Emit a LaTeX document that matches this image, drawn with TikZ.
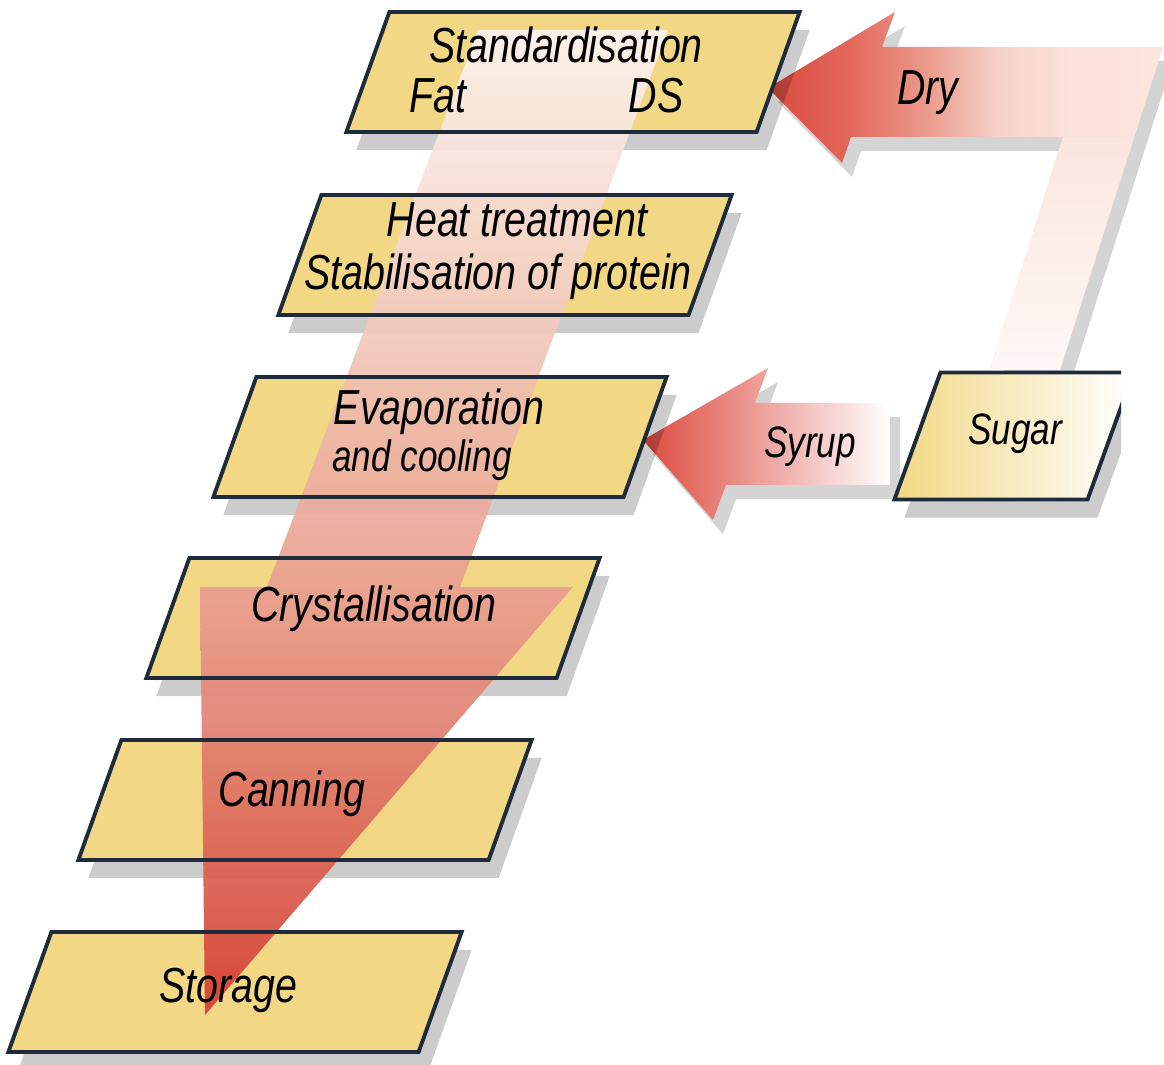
\documentclass[tikz,border=0pt]{standalone}
\usepackage{fontspec}
\setmainfont{Liberation Sans}[FakeStretch=0.8]
\usetikzlibrary{shadows}

\definecolor{boxfill}{HTML}{F2D884}
\definecolor{boxline}{HTML}{1E2B3A}
\definecolor{feedred}{HTML}{DC4A3E}
\definecolor{feedpale}{HTML}{FBE6DF}

% main flow, pale at the top, red at the tip
\pgfdeclareverticalshading{flowshade}{100bp}{
  color(0bp)=(rgb,255:red,212;green,58;blue,48);
  color(25bp)=(rgb,255:red,212;green,58;blue,48);
  color(36bp)=(rgb,255:red,222;green,112;blue,96);
  color(45bp)=(rgb,255:red,232;green,153;blue,138);
  color(55bp)=(rgb,255:red,238;green,184;blue,169);
  color(63bp)=(rgb,255:red,245;green,211;blue,201);
  color(75bp)=(rgb,255:red,252;green,244;blue,241);
  color(100bp)=(rgb,255:red,252;green,244;blue,241)}
% dry sugar, red at the head
\pgfdeclarehorizontalshading{dryshade}{100bp}{
  color(0bp)=(feedred);
  color(25bp)=(feedred);
  color(35bp)=(rgb,255:red,226;green,102;blue,90);
  color(45bp)=(rgb,255:red,235;green,154;blue,140);
  color(54bp)=(rgb,255:red,246;green,210;blue,200);
  color(62bp)=(rgb,255:red,250;green,224;blue,216);
  color(75bp)=(feedpale);
  color(100bp)=(feedpale)}

\tikzset{
  stage/.style={rectangle, minimum width=4.53cm, minimum height=1.2cm,
    inner sep=0pt, outer sep=0pt},
  slantbox/.style 2 args={insert path={([xshift=#2]#1.north west) -- (#1.north east)
    -- ([xshift=-#2]#1.south east) -- (#1.south west) -- cycle}},
  boxshadow/.style={drop shadow={shadow xshift=1mm, shadow yshift=-1.8mm,
    fill=black, opacity=.2}},
  arrowshadow/.style={drop shadow={shadow xshift=1mm, shadow yshift=-1.4mm,
    fill=black, opacity=.17}},
  boxedge/.style={draw=boxline, line width=1.1pt},
  lbl/.style={anchor=base, inner sep=0pt, font=\fontsize{14}{16}\selectfont\itshape},
  lblsmall/.style={lbl, font=\fontsize{12.5}{15}\selectfont\itshape}
}

\begin{document}
\begin{tikzpicture}[x=0.01cm, y=-0.01cm]
\useasboundingbox (0,0) rectangle (1164,1065);

% feed arrows from the sugar
\path[shading=dryshade, arrowshadow]
  (768,88) -- (895,12) -- (882,47) -- (1163,47) -- (1060,370) -- (990,370)
  -- (1063,137) -- (851,137) -- (842,163) -- cycle;
\shade[top color=feedpale, bottom color=white!70!feedpale]
  (1063,137) -- (1134,137) -- (1060,370) -- (990,370) -- cycle;
\shade[left color=feedred, right color=white, arrowshadow]
  (643,440) -- (768,368) -- (755,403) -- (890,403) -- (890,485) -- (726,485)
  -- (713,520) -- cycle;

% process steps
\foreach \n/\x/\y in {std/573/72, heat/505/255, evap/440/437,
                      cryst/373/618, can/305/800, sto/235/992}{
  \node[stage] (\n) at (\x,\y) {};
  \path[fill=boxfill, boxshadow, slantbox={\n}{4.3mm}];
}

\begin{scope}
\clip (0,0) rectangle (1121,1065);
\node[stage, minimum width=2.39cm, minimum height=1.27cm] (sugar) at (1014,436) {};
\path[left color=boxfill, right color=white, boxedge, boxshadow,
  slantbox={sugar}{4.6mm}];
\end{scope}

% main flow
\path[shading=flowshade, opacity=.92]
  (478,30) -- (668,30) -- (460,587) -- (573,587) -- (205,1015) -- (200,587)
  -- (267,587) -- cycle;

\foreach \n in {std,heat,evap,cryst,can,sto}
  \path[boxedge, slantbox={\n}{4.3mm}];

% texts
\node[lbl] (t-std) at (566,63) {Standardisation};
\node[lbl] (t-fat) at (438,113) {Fat};
\node[lbl] (t-ds) at (656,113) {DS};
\node[lbl] (t-heat) at (517,237) {Heat treatment};
\node[lbl] (t-prot) at (498,290) {Stabilisation of protein};
\node[lbl] (t-evap) at (439,425) {Evaporation};
\node[lblsmall] (t-cool) at (422,472) {and cooling};
\node[lbl] (t-cryst) at (374,622) {Crystallisation};
\node[lbl] (t-can) at (292,807) {Canning};
\node[lbl] (t-sto) at (228,1002) {Storage};
\node[lblsmall] (t-sugar) at (1015,445) {Sugar};
\node[lbl] (t-dry) at (928,105) {Dry};
\node[lblsmall] (t-syrup) at (810,458) {Syrup};
\end{tikzpicture}
\end{document}
